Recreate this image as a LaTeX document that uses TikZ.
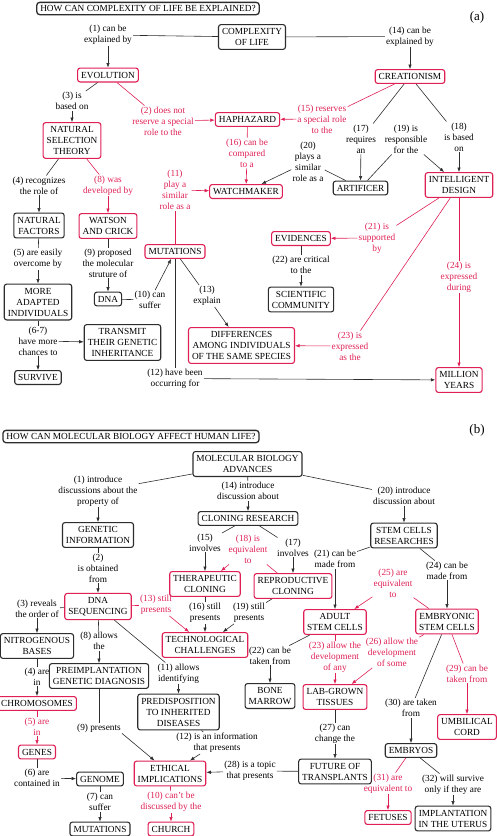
\documentclass[tikz,border=0pt]{standalone}
\usepackage{fontspec}
\setmainfont{Liberation Serif}
\usetikzlibrary{arrows.meta}
\definecolor{mapred}{RGB}{222,32,85}
\definecolor{mapgray}{RGB}{45,45,45}
\newcommand\mapfont{\fontsize{9.3}{11}\selectfont}
\tikzset{
  cbox/.style={draw=mapgray, line width=1.1pt, rounded corners=2.5pt, fill=white, align=center, font=\mapfont, inner xsep=3.5pt, inner ysep=3.8pt},
  rbox/.style={cbox, draw=mapred},
  tbox/.style={cbox, line width=1.3pt, rounded corners=3pt, inner ysep=3pt},
  lbl/.style={align=center, font=\mapfont, inner sep=1pt},
  rlbl/.style={lbl, text=mapred},
  tag/.style={font=\fontsize{13}{13}\selectfont},
  ln/.style={line width=0.6pt, mapgray},
  arr/.style={ln, -{Latex[length=4.5pt,width=3.5pt]}},
  rln/.style={line width=0.6pt, mapred},
  rarr/.style={rln, -{Latex[length=4.5pt,width=3.5pt]}}
}
\begin{document}
\begin{tikzpicture}[x=1pt,y=-1pt]
        \useasboundingbox (0,0) rectangle (497,836);

        \node[tbox] (titleA) at (148,8.5) {HOW CAN COMPLEXITY OF LIFE BE EXPLAINED?};
        \node[tag] (tagA) at (477,17) {(a)};
        \node[cbox] (complexity) at (252,37) {COMPLEXITY\\OF LIFE};
        \node[lbl] (l1) at (108,35) {(1) can be\\explained by};
        \node[rbox] (evolution) at (108,75) {EVOLUTION};
        \node[lbl] (l14) at (410,36.5) {(14) can be\\explained by};
        \node[rbox] (creationism) at (410,76.5) {CREATIONISM};
        \node[lbl] (l3) at (72,101) {(3) is\\based on};
        \node[rbox] (nst) at (72,140.5) {NATURAL\\SELECTION\\THEORY};
        \node[rlbl] (l2) at (163,121) {(2) does not\\reserve a special\\role to the};
        \node[rbox] (haphazard) at (247.5,119.5) {HAPHAZARD};
        \node[rlbl] (l15) at (322,119) {(15) reserves\\a special role\\to the};
        \node[rlbl] (l16) at (247,153) {(16) can be\\compared\\to a};
        \node[rbox] (watchmaker) at (246,191.5) {WATCHMAKER};
        \node[rlbl] (l11) at (175,190) {(11)\\play a\\similar\\role as a};
        \node[rbox] (mutA) at (175,251.5) {MUTATIONS};
        \node[lbl] (l20) at (308,161.5) {(20)\\plays a\\similar\\role as a};
        \node[cbox] (artificer) at (360.5,188) {ARTIFICER};
        \node[lbl] (l17) at (361,139) {(17)\\requires\\an};
        \node[lbl] (l19) at (406,139) {(19) is\\responsible\\for the};
        \node[lbl] (l18) at (459,137) {(18)\\is based\\on};
        \node[rbox] (design) at (459,185) {INTELLIGENT\\DESIGN};
        \node[rbox] (evidences) at (301,238.5) {EVIDENCES};
        \node[rlbl] (l21) at (377,238) {(21) is\\supported\\by};
        \node[lbl] (l22) at (301,265) {(22) are critical\\to the};
        \node[cbox] (community) at (301,299.5) {SCIENTIFIC\\COMMUNITY};
        \node[rlbl] (l24) at (459,277) {(24) is\\expressed\\during};
        \node[rbox] (million) at (459,380) {MILLION\\YEARS};
        \node[rlbl] (l23) at (350,346) {(23) is\\expressed\\as the};
        \node[rbox] (differences) at (241.5,345.5) {DIFFERENCES\\AMONG INDIVIDUALS\\OF THE SAME SPECIES};
        \node[lbl] (l13) at (207,296) {(13)\\explain};
        \node[lbl] (l12) at (175,378.5) {(12) have been\\occurring for};
        \node[lbl] (l4) at (39,185.5) {(4) recognizes\\the role of};
        \node[cbox] (factors) at (39,225.5) {NATURAL\\FACTORS};
        \node[rlbl] (l8) at (108,185.5) {(8) was\\developed by};
        \node[rbox] (watson) at (108,226) {WATSON\\AND CRICK};
        \node[lbl] (l9) at (108,263) {(9) proposed\\the molecular\\struture of};
        \node[cbox] (dna) at (108,299) {DNA};
        \node[lbl] (l10) at (150,300) {(10) can\\suffer};
        \node[lbl] (l5) at (38,259) {(5) are easily\\overcome by};
        \node[cbox] (adapted) at (38,302) {MORE\\ADAPTED\\INDIVIDUALS};
        \node[lbl] (l6) at (38,341) {(6-7)\\have more\\chances to};
        \node[cbox] (transmit) at (122.5,342.5) {TRANSMIT\\THEIR GENETIC\\INHERITANCE};
        \node[cbox] (survive) at (38,377.5) {SURVIVE};

        \draw[ln] (complexity) -- (l1);
        \draw[arr] (l1) -- (evolution);
        \draw[ln] (complexity) -- (l14);
        \draw[arr] (l14) -- (creationism);
        \draw[ln] (evolution) -- (l3);
        \draw[arr] (l3) -- (nst);
        \draw[rln] (evolution) -- (l2);
        \draw[rarr] (l2) -- (haphazard);
        \draw[rln] (creationism) -- (l15);
        \draw[rarr] (l15) -- (haphazard);
        \draw[rln] (haphazard) -- (l16);
        \draw[rarr] (l16) -- (watchmaker);
        \draw[rln] (mutA) -- (l11);
        \draw[rarr] (l11) -- (watchmaker);
        \draw[ln] (artificer) -- (l20);
        \draw[arr] (l20) -- (watchmaker);
        \draw[ln] (creationism) -- (l17);
        \draw[arr] (l17) -- (artificer);
        \draw[ln] (artificer) -- (l19);
        \draw[arr] (l19) -- (design);
        \draw[ln] (creationism) -- (l18);
        \draw[arr] (l18) -- (design);
        \draw[rln] (design) -- (l21);
        \draw[rarr] (l21) -- (evidences);
        \draw[ln] (evidences) -- (l22);
        \draw[arr] (l22) -- (community);
        \draw[rln] (design) -- (l24);
        \draw[rarr] (l24) -- (million);
        \draw[rln] (design) -- (l23);
        \draw[rarr] (l23) -- (differences);
        \draw[ln] (mutA) -- (l13);
        \draw[arr] (l13) -- (differences);
        \draw[ln] (mutA) -- (l12);
        \draw[arr] (l12) -- (million);
        \draw[ln] (nst) -- (l4);
        \draw[arr] (l4) -- (factors);
        \draw[rln] (nst) -- (l8);
        \draw[rarr] (l8) -- (watson);
        \draw[ln] (watson) -- (l9);
        \draw[arr] (l9) -- (dna);
        \draw[ln] (dna) -- (l10);
        \draw[arr] (l10) -- (mutA);
        \draw[ln] (factors) -- (l5);
        \draw[arr] (l5) -- (adapted);
        \draw[ln] (adapted) -- (l6);
        \draw[arr] (l6) -- (transmit);
        \draw[arr] (l6) -- (survive);

        \node[tbox] (titleB) at (131,436.5) {HOW CAN MOLECULAR BIOLOGY AFFECT HUMAN LIFE?};
        \node[tag] (tagB) at (477,430) {(b)};
        \node[cbox] (advances) at (247.5,464) {MOLECULAR BIOLOGY\\ADVANCES};
        \node[lbl] (m1) at (98,491) {(1) introduce\\discussions about the\\property of};
        \node[cbox] (genetic) at (98,535) {GENETIC\\INFORMATION};
        \node[lbl] (m2) at (98,568) {(2)\\is obtained\\from};
        \node[rbox] (sequencing) at (98,606.5) {DNA\\SEQUENCING};
        \node[lbl] (m14) at (248,491) {(14) introduce\\discussion about};
        \node[cbox] (cloning) at (248,518.5) {CLONING RESEARCH};
        \node[lbl] (m20) at (404,496) {(20) introduce\\discussion about};
        \node[cbox] (stem) at (404,535.5) {STEM CELLS\\RESEARCHES};
        \node[lbl] (m15) at (205,542.5) {(15)\\involves};
        \node[rbox] (therapeutic) at (205,584) {THERAPEUTIC\\CLONING};
        \node[rlbl] (m18) at (248,549) {(18) is\\equivalent\\to};
        \node[lbl] (m17) at (293,547.5) {(17)\\involves};
        \node[rbox] (reproductive) at (293,586) {REPRODUCTIVE\\CLONING};
        \node[lbl] (m16) at (205,613) {(16) still\\presents};
        \node[lbl] (m19) at (249,613) {(19) still\\presents};
        \node[rbox] (challenges) at (205,645) {TECHNOLOGICAL\\CHALLENGES};
        \node[rlbl] (m13) at (156,605) {(13) still\\presents};
        \node[lbl] (m21) at (335,559) {(21) can be\\made from};
        \node[rbox] (adult) at (335,622) {ADULT\\STEM CELLS};
        \node[lbl] (m24) at (447,570.5) {(24) can be\\made from};
        \node[rbox] (embryonic) at (447,621.5) {EMBRYONIC\\STEM CELLS};
        \node[rlbl] (m25) at (393,583) {(25) are\\equivalent\\to};
        \node[lbl] (m22) at (270,655.5) {(22) can be\\taken from};
        \node[cbox] (marrow) at (270,696) {BONE\\MARROW};
        \node[rlbl] (m23) at (335,657) {(23) allow the\\development\\of any};
        \node[rbox] (labgrown) at (335,697) {LAB-GROWN\\TISSUES};
        \node[rlbl] (m26) at (392,652.5) {(26) allow the\\development\\of some};
        \node[rlbl] (m29) at (467,673.5) {(29) can be\\taken from};
        \node[rbox] (cord) at (467,727) {UMBILICAL\\CORD};
        \node[lbl] (m30) at (411,708) {(30) are taken\\from};
        \node[cbox] (embryos) at (411,750.5) {EMBRYOS};
        \node[lbl] (m27) at (335,733.5) {(27) can\\change the};
        \node[cbox] (future) at (335,771.5) {FUTURE OF\\TRANSPLANTS};
        \node[lbl] (m28) at (250,771) {(28) is a topic\\that presents};
        \node[rbox] (ethical) at (170,773.5) {ETHICAL\\IMPLICATIONS};
        \node[rlbl] (m31) at (388,783.5) {(31) are\\equivalent to};
        \node[rbox] (fetuses) at (388,817.5) {FETUSES};
        \node[lbl] (m32) at (453,784.5) {(32) will survive\\only if they are};
        \node[cbox] (uterus) at (453,818.5) {IMPLANTATION\\IN THE UTERUS};
        \node[lbl] (m3) at (37,608.5) {(3) reveals\\the order of};
        \node[cbox] (bases) at (37,646) {NITROGENOUS\\BASES};
        \node[lbl] (m8) at (99,641) {(8) allows\\the};
        \node[cbox] (diagnosis) at (99,676) {PREIMPLANTATION\\GENETIC DIAGNOSIS};
        \node[lbl] (m4) at (37,676.5) {(4) are\\in};
        \node[rbox] (chromosomes) at (37,703.5) {CHROMOSOMES};
        \node[rlbl] (m5) at (37,726.5) {(5) are\\in};
        \node[rbox] (genes) at (37,752) {GENES};
        \node[lbl] (m6) at (37,778) {(6) are\\contained in};
        \node[cbox] (genome) at (100,779) {GENOME};
        \node[lbl] (m7) at (100,802) {(7) can\\suffer};
        \node[cbox] (mutB) at (100,829) {MUTATIONS};
        \node[lbl] (m9) at (99,728) {(9) presents};
        \node[lbl] (m11) at (178.5,673.5) {(11) allows\\identifying};
        \node[cbox] (predisposition) at (178.5,712) {PREDISPOSITION\\TO INHERITED\\DISEASES};
        \node[lbl] (m12) at (217,743) {(12) is an information\\that presents};
        \node[rlbl] (m10) at (171,802) {(10) can't be\\discussed by the};
        \node[rbox] (church) at (171,829) {CHURCH};

        \draw[ln] (advances) -- (m1);
        \draw[arr] (m1) -- (genetic);
        \draw[ln] (genetic) -- (m2);
        \draw[arr] (m2) -- (sequencing);
        \draw[ln] (advances) -- (m14);
        \draw[arr] (m14) -- (cloning);
        \draw[ln] (advances) -- (m20);
        \draw[arr] (m20) -- (stem);
        \draw[ln] (cloning) -- (m15);
        \draw[arr] (m15) -- (therapeutic);
        \draw[ln] (cloning) -- (m17);
        \draw[arr] (m17) -- (reproductive);
        \draw[rln] (reproductive) -- (m18);
        \draw[rarr] (m18) -- (therapeutic);
        \draw[ln] (therapeutic) -- (m16);
        \draw[arr] (m16) -- (challenges);
        \draw[ln] (reproductive) -- (m19);
        \draw[arr] (m19) -- (challenges);
        \draw[rln] (sequencing) -- (m13);
        \draw[rarr] (m13) -- (challenges);
        \draw[ln] (stem) -- (m21);
        \draw[arr] (m21) -- (adult);
        \draw[ln] (stem) -- (m24);
        \draw[arr] (m24) -- (embryonic);
        \draw[rln] (embryonic) -- (m25);
        \draw[rarr] (m25) -- (adult);
        \draw[ln] (adult) -- (m22);
        \draw[arr] (m22) -- (marrow);
        \draw[rln] (adult) -- (m23);
        \draw[rarr] (m23) -- (labgrown);
        \draw[rln] (embryonic) -- (m26);
        \draw[rarr] (m26) -- (labgrown);
        \draw[rln] (embryonic) -- (m29);
        \draw[rarr] (m29) -- (cord);
        \draw[ln] (embryonic) -- (m30);
        \draw[arr] (m30) -- (embryos);
        \draw[ln] (labgrown) -- (m27);
        \draw[arr] (m27) -- (future);
        \draw[ln] (future) -- (m28);
        \draw[arr] (m28) -- (ethical);
        \draw[rln] (embryos) -- (m31);
        \draw[rarr] (m31) -- (fetuses);
        \draw[ln] (embryos) -- (m32);
        \draw[arr] (m32) -- (uterus);
        \draw[ln] (sequencing) -- (m3);
        \draw[arr] (m3) -- (bases);
        \draw[ln] (sequencing) -- (m8);
        \draw[arr] (m8) -- (diagnosis);
        \draw[ln] (bases) -- (m4);
        \draw[arr] (m4) -- (chromosomes);
        \draw[rln] (chromosomes) -- (m5);
        \draw[rarr] (m5) -- (genes);
        \draw[ln] (genes) -- (m6);
        \draw[arr] (m6) -- (genome);
        \draw[ln] (genome) -- (m7);
        \draw[arr] (m7) -- (mutB);
        \draw[ln] (diagnosis) -- (m9);
        \draw[arr] (m9.south east) -- (ethical);
        \draw[ln] (sequencing) -- (m11);
        \draw[arr] (m11) -- (predisposition);
        \draw[ln] (predisposition) -- (m12);
        \draw[arr] (m12) -- (ethical);
        \draw[rln] (ethical) -- (m10);
        \draw[rarr] (m10) -- (church);

    \end{tikzpicture}
\end{document}
